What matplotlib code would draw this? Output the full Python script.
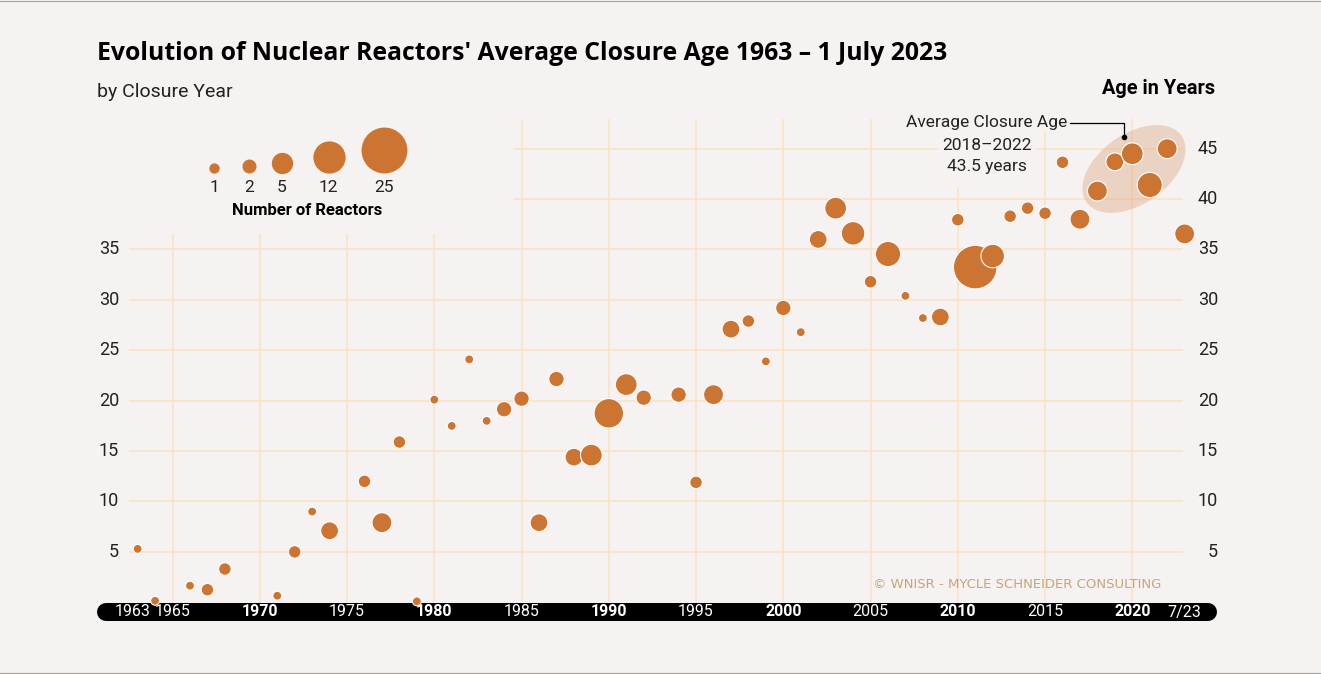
import numpy as np
import matplotlib.pyplot as plt
import matplotlib.transforms as mtransforms
from matplotlib.patches import Ellipse

# Datos: año de cierre, edad media al cierre (años) y número de reactores cerrados
anios = [1963, 1964, 1966, 1967, 1968, 1971, 1972, 1973, 1974, 1976,
         1977, 1978, 1979, 1980, 1981, 1982, 1983, 1984, 1985, 1986,
         1987, 1988, 1989, 1990, 1991, 1992, 1994, 1995, 1996, 1997,
         1998, 1999, 2000, 2001, 2002, 2003, 2004, 2005, 2006, 2007,
         2008, 2009, 2010, 2011, 2012, 2013, 2014, 2015, 2016, 2017,
         2018, 2019, 2020, 2021, 2022, 2023]
edades = [5.3, 0.15, 1.65, 1.25, 3.3, 0.65, 5.0, 9.0, 7.1, 12.0,
          7.9, 15.9, 0.1, 20.1, 17.5, 24.1, 18.0, 19.15, 20.2, 7.9,
          22.15, 14.4, 14.6, 18.75, 21.6, 20.3, 20.6, 11.9, 20.6, 27.1,
          27.9, 23.9, 29.2, 26.8, 36.0, 39.1, 36.6, 31.8, 34.55, 30.4,
          28.2, 28.3, 37.95, 33.25, 34.35, 38.3, 39.1, 38.6, 43.65, 38.0,
          40.8, 43.7, 44.5, 41.4, 45.0, 36.55]
reactores = [1, 1, 1, 2, 2, 1, 2, 1, 4, 2,
             5, 2, 1, 1, 1, 1, 1, 3, 3, 4,
             3, 4, 6, 11, 6, 3, 3, 2, 5, 4,
             2, 1, 3, 1, 4, 6, 7, 2, 8, 1,
             1, 4, 2, 24, 7, 2, 2, 2, 2, 5,
             5, 4, 6, 8, 5, 5]

ticks_x = [1963, 1965, 1970, 1975, 1980, 1985, 1990, 1995, 2000, 2005, 2010, 2015, 2020, 2023]
etiquetas_x = ['1963', '1965', '1970', '1975', '1980', '1985', '1990', '1995',
               '2000', '2005', '2010', '2015', '2020', '7/23']
ticks_y = [5, 10, 15, 20, 25, 30, 35, 40, 45]
leyenda_n = [1, 2, 5, 12, 25]

W, H = 1321, 674
fondo = '#f6f2f1'
naranja = '#cc7432'
rejilla = '#fbe2c2'
texto = '#222222'

plt.rcParams['font.family'] = ['Roboto', 'DejaVu Sans']


# pixeles de la imagen -> coordenadas de datos
def px_x(px):
    return 1980 + (px - 434.3) / 17.45


def px_y(py):
    return (602.3 - py) / 10.08


def escala(n):
    # area proporcional al número de reactores
    return 41.0 * np.asarray(n)


fig = plt.figure(figsize=(W / 100, H / 100), dpi=100, facecolor=fondo)
ax = fig.add_axes([0, 0, 1, 1])
ax.set_facecolor(fondo)
ax.set_xlim(px_x(0), px_x(W))
ax.set_ylim(px_y(H), px_y(0))
ax.axis('off')

# Rejilla
for y in ticks_y:
    x0 = px_x(129) if y <= 35 else px_x(514)
    ax.hlines(y, x0, px_x(1183), color=rejilla, lw=1.1, zorder=1)
for a in range(1965, 2021, 5):
    if a <= 1980:
        arriba = px_y(234)
    elif a == 2010:
        arriba = px_y(187)
    else:
        arriba = px_y(119)
    ax.vlines(a, 0, arriba, color=rejilla, lw=1.1, zorder=1)

# Etiquetas eje Y
for y in ticks_y:
    if y <= 35:
        ax.text(px_x(119), y, str(y), ha='right', va='center', fontsize=13, color=texto)
    ax.text(px_x(1218), y, str(y), ha='right', va='center', fontsize=13, color=texto)

# Barra negra del eje X
ax.plot([px_x(106), px_x(1208)], [px_y(612)] * 2, color='black', lw=18 * 0.72,
        solid_capstyle='round', zorder=3)
for t, et in zip(ticks_x, etiquetas_x):
    xt = t - 0.3 if t == 1963 else t
    negrita = t % 10 == 0
    ax.text(xt, px_y(612), et, ha='center', va='center', fontsize=11.5, color='white',
            fontweight='bold' if negrita else 'normal', zorder=4)

# Elipse 2018-2022
trans = mtransforms.Affine2D() + mtransforms.ScaledTranslation(px_x(1134), px_y(169), ax.transData)
ax.add_patch(Ellipse((0, 0), 116, 70, angle=35, transform=trans,
                     facecolor='#dba27a', alpha=0.38, edgecolor='none', zorder=2))

# Burbujas
ax.scatter(anios, edades, s=escala(reactores), color=naranja, edgecolors='white',
           linewidths=0.8, zorder=5)

# Anotación
ax.text(px_x(987), px_y(123), 'Average Closure Age', ha='center', va='center', fontsize=12.5,
        color=texto, bbox=dict(facecolor=fondo, edgecolor='none', pad=1))
ax.text(px_x(987), px_y(146), '2018\u20132022', ha='center', va='center', fontsize=12.5,
        color=texto, bbox=dict(facecolor=fondo, edgecolor='none', pad=3))
ax.text(px_x(987), px_y(167), '43.5 years', ha='center', va='center', fontsize=12.5,
        color=texto)
ax.plot([px_x(1070), px_x(1124), px_x(1124)], [px_y(123), px_y(123), px_y(137)],
        color='black', lw=0.9, zorder=6)
ax.plot(px_x(1124), px_y(137), 'o', ms=3, color='black', zorder=6)

# Leyenda de tamaños
leyenda_px = [214, 249, 282, 328.7, 384.3]
for n, cx in zip(leyenda_n, leyenda_px):
    d = 8.9 * np.sqrt(n)
    ax.scatter(px_x(cx), px_y(172.5 - d / 2), s=escala(n), color=naranja, zorder=5)
    ax.text(px_x(cx), px_y(188), str(n), ha='center', va='center', fontsize=12.5,
            color=texto)
ax.text(px_x(307), px_y(211), 'Number of Reactors', ha='center', va='center', fontsize=12,
        fontweight='bold', color='black')

# Títulos
fig.text(97 / W, 1 - 53 / H, "Evolution of Nuclear Reactors' Average Closure Age 1963 \u2013 1 July 2023",
         ha='left', va='center', fontsize=17.8, fontweight='bold', color='black',
         family=['Open Sans', 'DejaVu Sans'])
fig.text(97 / W, 1 - 92 / H, 'by Closure Year', ha='left', va='center', fontsize=14,
         color=texto)
fig.text(1215 / W, 1 - 89 / H, 'Age in Years', ha='right', va='center', fontsize=14.3,
         fontweight='bold', color='black')
fig.text(873 / W, 1 - 584 / H, '\u00a9 WNISR - MYCLE SCHNEIDER CONSULTING', ha='left', va='center',
         fontsize=9.5, color='#c3a77a', family=['DejaVu Sans'])

# bordes finos arriba y abajo
fig.add_artist(plt.Line2D([0, 1], [1 - 0.5 / H, 1 - 0.5 / H], transform=fig.transFigure,
                          color='#a8a095', lw=0.8))
fig.add_artist(plt.Line2D([0, 1], [1.5 / H, 1.5 / H], transform=fig.transFigure,
                          color='#a8a095', lw=0.8))

fig.savefig('out.png', dpi=100, facecolor=fondo)
